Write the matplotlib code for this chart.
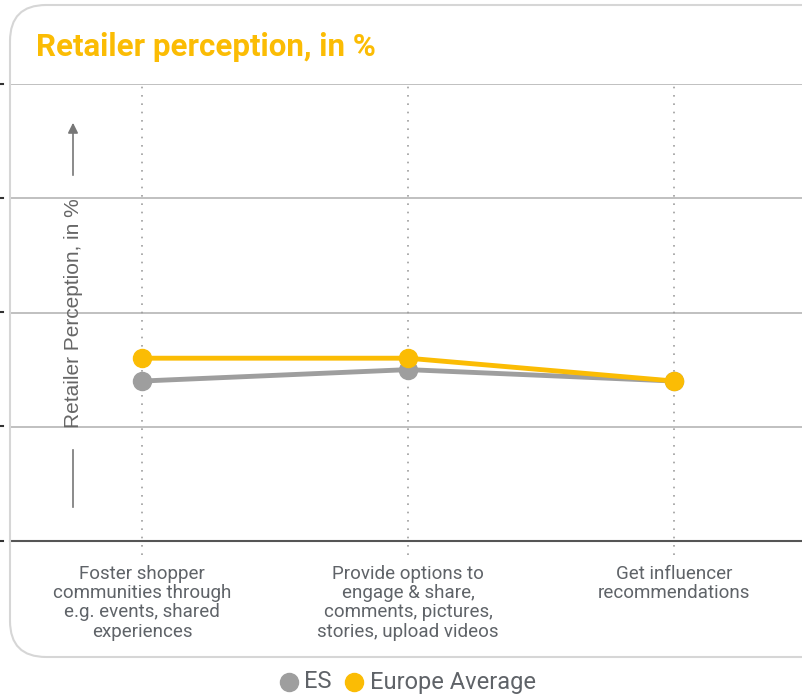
import matplotlib
matplotlib.use('Agg')
from matplotlib import pyplot as plt
from matplotlib.patches import FancyBboxPatch

categories = ['Foster shopper\ncommunities through\ne.g. events, shared\nexperiences',
              'Provide options to\nengage & share,\ncomments, pictures,\nstories, upload videos',
              'Get influencer\nrecommendations']
es_values = [35, 37.5, 35]
europe_values = [40, 40, 35]
y_ticks = [0, 25, 50, 75, 100]

GREY = '#9e9e9e'
YELLOW = '#fbbc04'
TEXT = '#5f6368'

plt.rcParams['font.family'] = ['Roboto', 'DejaVu Sans']

W, H = 803, 697
fig = plt.figure(figsize=(W / 100, H / 100), dpi=100)

# card outline
card = FancyBboxPatch((10 / W, 1 - 657 / H), 830 / W, 652 / H,
                      boxstyle='round,pad=0,rounding_size=0.045',
                      transform=fig.transFigure, fill=False,
                      edgecolor='#d6d6d6', linewidth=1.5, mutation_aspect=W / H)
fig.patches.append(card)

fig.text(36 / W, 1 - 47 / H, 'Retailer perception, in %', color=YELLOW,
         fontsize=22.5, fontweight='bold', va='center', ha='left')

ax = fig.add_axes([10 / W, 1 - 541 / H, 793 / W, 457 / H])
x = list(range(len(categories)))
ax.set_xlim(-0.496, 2.485)
ax.set_ylim(y_ticks[0], y_ticks[-1])

for yv in y_ticks[1:]:
    ax.axhline(yv, color='#b5b5b5', linewidth=1.2, zorder=1)
ax.axhline(y_ticks[0], color='#555555', linewidth=1.5, zorder=1, clip_on=False)
for xi in x:
    ax.plot([xi, xi], [-3, 100], color='#9e9e9e', linestyle=(0, (1, 4)),
            linewidth=1.2, clip_on=False, zorder=1)

ax.plot(x, es_values, color=GREY, linewidth=3.5, marker='o', markersize=13, zorder=3)
ax.plot(x, europe_values, color=YELLOW, linewidth=3.5, marker='o', markersize=13, zorder=4)

for s in ax.spines.values():
    s.set_visible(False)
ax.set_xticks([])
ax.set_yticks([])

for xi, label in zip(x, categories):
    ax.annotate(label, (xi, 0), xytext=(0, -17), textcoords='offset points',
                ha='center', va='top', fontsize=13.5, color=TEXT, linespacing=1.1,
                annotation_clip=False)

# y axis label with arrows
fig.text(74 / W, 1 - 313 / H, 'Retailer Perception, in %', rotation=90,
         ha='center', va='center', fontsize=15, color='#666666',
         family=['Liberation Sans', 'DejaVu Sans'])
fig.add_artist(matplotlib.patches.FancyArrowPatch(
    (73 / W, 1 - 178 / H), (73 / W, 1 - 120 / H), transform=fig.transFigure,
    arrowstyle='-|>,head_length=6,head_width=3', color='#777777', linewidth=1.2))
fig.add_artist(matplotlib.lines.Line2D([73 / W, 73 / W], [1 - 450 / H, 1 - 507 / H],
                                       transform=fig.transFigure, color='#777777', linewidth=1.2))

# left edge tick dots
for yy in [84, 198, 312, 426, 541]:
    fig.add_artist(matplotlib.lines.Line2D([0, 3 / W], [1 - yy / H, 1 - yy / H],
                                           transform=fig.transFigure, color='#333333', linewidth=1.5))

# legend
fig.lines.append(matplotlib.lines.Line2D([289 / W], [1 - 682 / H], transform=fig.transFigure,
                                         marker='o', markersize=13, color=GREY, linestyle=''))
fig.text(304 / W, 1 - 682 / H, 'ES', fontsize=17, color=TEXT, va='center', ha='left')
fig.lines.append(matplotlib.lines.Line2D([354 / W], [1 - 682 / H], transform=fig.transFigure,
                                         marker='o', markersize=13, color=YELLOW, linestyle=''))
fig.text(370 / W, 1 - 682 / H, 'Europe Average', fontsize=17, color=TEXT, va='center', ha='left')

fig.savefig('out.png', dpi=100)
